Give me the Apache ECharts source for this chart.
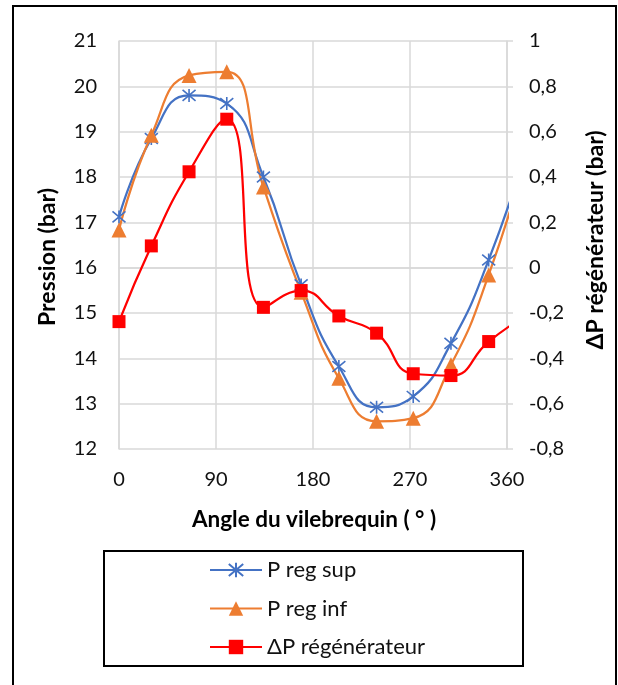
<!DOCTYPE html>
<html>
<head>
<meta charset="utf-8">
<script src="https://cdn.jsdelivr.net/npm/echarts@6/dist/echarts.min.js"></script>
<style>
html,body{margin:0;padding:0;background:#fff;}
#chart{width:618px;height:685px;}
</style>
</head>
<body>
<div id="chart"></div>
<script>
// Crank angle (deg); the last point lies just beyond 360 and is clipped by the axis
const angles = [0, 30, 65, 100, 134, 169, 204, 239, 273, 308, 343, 378];
const pRegSup = [17.12, 18.85, 19.80, 19.62, 18.00, 15.62, 13.82, 12.92, 13.16, 14.33, 16.17, 18.6];
const pRegInf = [16.83, 18.92, 20.24, 20.32, 17.78, 15.46, 13.56, 12.61, 12.68, 13.86, 15.84, 18.5];
const deltaP = [-0.238, 0.096, 0.423, 0.655, -0.175, -0.101, -0.213, -0.289, -0.468, -0.476, -0.326, -0.21];
const seriesNames = ['P reg sup', 'P reg inf', 'ΔP régénérateur'];
const xTitle = 'Angle du vilebrequin ( ° )';
const yLeftTitle = 'Pression (bar)';
const yRightTitle = 'ΔP régénérateur (bar)';

const FONT = 'Lato, "Noto Sans", sans-serif';
const pair = (ys) => angles.map((a, i) => [a, ys[i]]);
const gridColor = '#d9d9d9';

const chart = echarts.init(document.getElementById('chart'), null, {renderer: 'canvas'});
chart.setOption({
  animation: false,
  backgroundColor: '#fff',
  textStyle: {fontFamily: FONT},
  grid: {left: 119, right: 111, top: 41, bottom: 236},
  xAxis: {
    type: 'value', min: 0, max: 360, interval: 90,
    axisLine: {show: true, lineStyle: {color: gridColor, width: 1.5}},
    axisTick: {show: false},
    splitLine: {show: true, lineStyle: {color: gridColor, width: 1.5}},
    axisLabel: {color: '#111', fontSize: 20, fontFamily: FONT, margin: 21}
  },
  yAxis: [
    {
      type: 'value', min: 12, max: 21, interval: 1, position: 'left',
      axisLine: {show: true, lineStyle: {color: gridColor, width: 1.5}},
      axisTick: {show: false},
      splitLine: {show: true, lineStyle: {color: gridColor, width: 1.5}},
      axisLabel: {color: '#111', fontSize: 20, fontFamily: FONT, margin: 22}
    },
    {
      type: 'value', min: -0.8, max: 1, interval: 0.2, position: 'right',
      axisLine: {show: true, lineStyle: {color: gridColor, width: 1.5}},
      axisTick: {show: true, inside: false, length: 6, lineStyle: {color: gridColor, width: 1.5}},
      splitLine: {show: false},
      axisLabel: {
        color: '#111', fontSize: 20, fontFamily: FONT, margin: 22,
        formatter: (v) => String(Math.round(v * 10) / 10).replace('.', ',')
      }
    }
  ],
  legend: {
    orient: 'vertical', left: 209, top: 559, padding: 0,
    itemWidth: 52, itemHeight: 18, itemGap: 16.5,
    textStyle: {fontSize: 22, fontFamily: FONT, color: '#111', lineHeight: 22},
    data: seriesNames
  },
  graphic: [
    {type: 'rect', shape: {x: 13, y: 6, width: 603, height: 720}, style: {fill: 'none', stroke: '#000', lineWidth: 2}, z: -10},
    {type: 'rect', shape: {x: 104, y: 551, width: 419, height: 115}, style: {fill: 'none', stroke: '#000', lineWidth: 2}},
    {type: 'text', x: 314, y: 520, style: {text: xTitle, font: 'bold 22.5px ' + FONT, fill: '#000', textAlign: 'center', textVerticalAlign: 'middle'}},
    {type: 'text', x: 48, y: 257, rotation: Math.PI / 2, style: {text: yLeftTitle, font: 'bold 23px ' + FONT, fill: '#000', textAlign: 'center', textVerticalAlign: 'middle'}},
    {type: 'text', x: 596, y: 240, rotation: Math.PI / 2, style: {text: yRightTitle, font: 'bold 23px ' + FONT, fill: '#000', textAlign: 'center', textVerticalAlign: 'middle'}}
  ],
  series: [
    {
      name: seriesNames[0], type: 'line', yAxisIndex: 0, smooth: 0.5, clip: true,
      data: pair(pRegSup),
      symbol: 'path://M0,0L10,10M0,10L10,0M5,-1L5,11', symbolSize: 13,
      lineStyle: {color: '#4472C4', width: 2.25},
      itemStyle: {color: '#4472C4', borderColor: '#4472C4', borderWidth: 1.6}
    },
    {
      name: seriesNames[1], type: 'line', yAxisIndex: 0, smooth: 0.5, clip: true,
      data: pair(pRegInf),
      symbol: 'triangle', symbolSize: 15,
      lineStyle: {color: '#ED7D31', width: 2.25},
      itemStyle: {color: '#ED7D31', borderWidth: 0}
    },
    {
      name: seriesNames[2], type: 'line', yAxisIndex: 1, smooth: 0.5, clip: true,
      data: pair(deltaP),
      symbol: 'rect', symbolSize: 13,
      lineStyle: {color: '#FF0000', width: 2.25},
      itemStyle: {color: '#FF0000', borderWidth: 0}
    }
  ]
});
</script>
</body>
</html>
